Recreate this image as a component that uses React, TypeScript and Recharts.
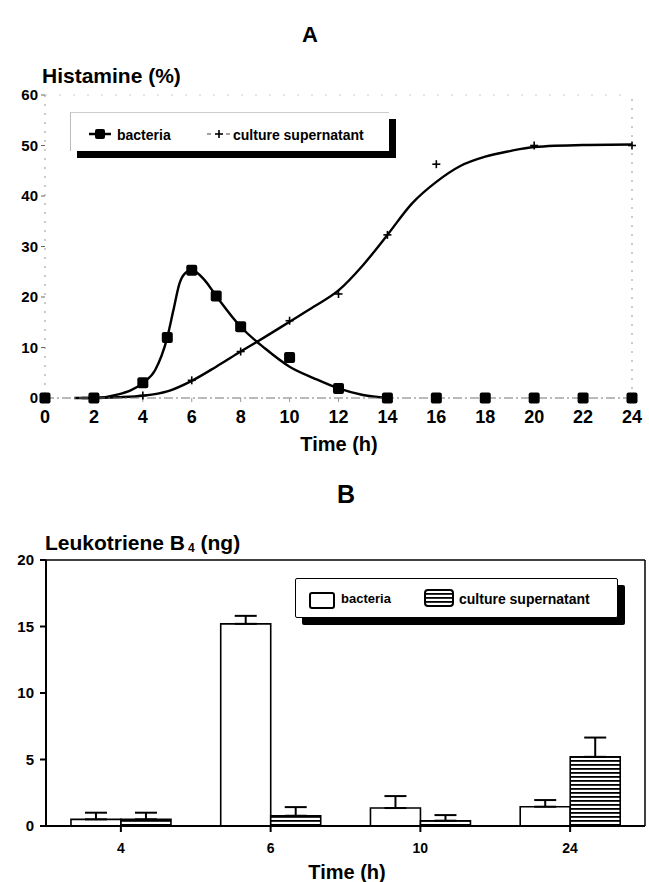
import {
  ComposedChart,
  Line,
  XAxis,
  YAxis,
  ReferenceLine,
  BarChart,
  Bar,
  ErrorBar,
} from 'recharts'

const FONT = '"Liberation Sans", Arial, Helvetica, sans-serif'

// Panel A – histamine release (%)
const HOURS = [0, 2, 4, 5, 6, 7, 8, 10, 12, 14, 16, 18, 20, 22, 24]
const BACTERIA = [0, 0, 3, 12, 25.3, 20.2, 14.1, 8, 1.9, 0, 0, 0, 0, 0, 0]
const SUP_HOURS = [4, 6, 8, 10, 12, 14, 16, 20, 24]
const SUPERNATANT = [0.5, 3.5, 9.2, 15.3, 20.6, 32.3, 46.3, 50, 50]

// fitted curves as drawn in the figure
const BACT_FIT_HOURS = [1.5, 2, 3, 4, 4.5, 5, 5.25, 5.5, 5.75, 6, 6.5, 7, 8, 9, 10, 11, 12, 13, 14]
const BACT_FIT = [0, 0, 0.7, 3, 5.5, 12, 17.4, 22.7, 24.8, 25.3, 23.5, 20.2, 14.1, 9.8, 6.2, 3.9, 1.9, 0.6, 0]
const SUP_FIT_HOURS = [1.2, 2, 3, 4, 5, 6, 7, 8, 9, 10, 11, 12, 13, 14, 15, 16, 17, 18, 19, 20, 22, 24]
const SUP_FIT = [0, 0, 0.15, 0.45, 1.3, 3.4, 6.2, 9.2, 12.1, 15.1, 18.1, 21.3, 26.3, 32.3, 38.5, 42.8, 46, 47.8, 48.9, 49.7, 50.1, 50.2]

const HOUR_TICKS = [0, 2, 4, 6, 8, 10, 12, 14, 16, 18, 20, 22, 24]
const PCT_TICKS = [0, 10, 20, 30, 40, 50, 60]

// Panel B – leukotriene B4 (ng)
const LTB_TIMES = ['4', '6', '10', '24']
const LTB_BACT = [0.5, 15.2, 1.35, 1.45]
const LTB_BACT_SD = [0.5, 0.6, 0.9, 0.5]
const LTB_SUP = [0.5, 0.77, 0.4, 5.2]
const LTB_SUP_SD = [0.5, 0.65, 0.42, 1.45]
const NG_TICKS = [0, 5, 10, 15, 20]

const toPts = (xs: number[], ys: number[]) => xs.map((t, i) => ({ t, v: ys[i] }))

const bactPts = toPts(HOURS, BACTERIA)
const supPts = toPts(SUP_HOURS, SUPERNATANT)
const bactFit = toPts(BACT_FIT_HOURS, BACT_FIT)
const supFit = toPts(SUP_FIT_HOURS, SUP_FIT)

const ltbData = LTB_TIMES.map((time, i) => ({
  time,
  bacteria: LTB_BACT[i],
  bacteriaErr: [0, LTB_BACT_SD[i]],
  supernatant: LTB_SUP[i],
  supernatantErr: [0, LTB_SUP_SD[i]],
}))

function SquareDot(props: any) {
  const { cx, cy, index } = props
  if (cx == null || cy == null) return <g key={index} />
  return <rect key={index} x={cx - 5.5} y={cy - 5.5} width={11} height={11} rx={2} fill="#000" />
}

function PlusDot(props: any) {
  const { cx, cy, index } = props
  if (cx == null || cy == null) return <g key={index} />
  return (
    <g key={index} stroke="#000" strokeWidth={1.6}>
      <line x1={cx - 4} y1={cy} x2={cx + 4} y2={cy} />
      <line x1={cx} y1={cy - 4} x2={cx} y2={cy + 4} />
    </g>
  )
}

const tickA = { fill: '#000', fontSize: 15, fontWeight: 700, fontFamily: FONT }
const tickAx = { fill: '#000', fontSize: 18, fontWeight: 700, fontFamily: FONT }
const tickB = { fill: '#000', fontSize: 15, fontWeight: 900, fontFamily: FONT }

const text = (extra: React.CSSProperties): React.CSSProperties => ({
  position: 'absolute',
  fontFamily: FONT,
  fontWeight: 700,
  lineHeight: 1,
  color: '#000',
  whiteSpace: 'nowrap',
  ...extra,
})

function HistamineChart() {
  return (
    <ComposedChart width={649} height={460} margin={{ top: 95, right: 17, left: 0, bottom: 32 }}>
      <XAxis
        dataKey="t"
        type="number"
        domain={[0, 24]}
        ticks={HOUR_TICKS}
        tick={tickAx}
        tickSize={4}
        tickMargin={8}
        height={30}
        axisLine={{ stroke: '#777', strokeWidth: 1.2, strokeDasharray: '9 3 2 3' }}
        tickLine={{ stroke: '#999' }}
        allowDuplicatedCategory={false}
      />
      <YAxis
        type="number"
        domain={[0, 60]}
        ticks={PCT_TICKS}
        tick={tickA}
        tickSize={4}
        tickMargin={3}
        width={45}
        axisLine={{ stroke: '#999', strokeDasharray: '2 7' }}
        tickLine={{ stroke: '#666' }}
      />
      <ReferenceLine x={24} stroke="#999" strokeDasharray="2 7" />
      <ReferenceLine y={60} stroke="#ccc" strokeDasharray="2 12" />
      <Line data={bactFit} dataKey="v" type="monotone" stroke="#000" strokeWidth={2.4} dot={false} isAnimationActive={false} />
      <Line data={supFit} dataKey="v" type="monotone" stroke="#000" strokeWidth={2.4} dot={false} isAnimationActive={false} />
      <Line data={supPts} dataKey="v" stroke="none" dot={PlusDot} isAnimationActive={false} />
      <Line data={bactPts} dataKey="v" stroke="none" dot={SquareDot} isAnimationActive={false} />
    </ComposedChart>
  )
}

function LeukotrieneChart() {
  return (
    <BarChart
      width={649}
      height={400}
      data={ltbData}
      margin={{ top: 79, right: 3, left: 0, bottom: 24 }}
      barCategoryGap="16.67%"
      barGap={0}
    >
      <defs>
        <pattern id="hstripes" width="4" height="4" patternUnits="userSpaceOnUse">
          <rect width="4" height="4" fill="#fff" />
          <rect width="4" height="1.8" fill="#000" />
        </pattern>
      </defs>
      <XAxis
        dataKey="time"
        tick={{ ...tickB, fontSize: 14 }}
        tickSize={6}
        tickMargin={11}
        height={30}
        axisLine={{ stroke: '#000', strokeWidth: 2 }}
        tickLine={{ stroke: '#000', strokeWidth: 2 }}
      />
      <XAxis xAxisId="top" dataKey="time" orientation="top" height={1} tick={false} tickLine={false} axisLine={{ stroke: '#000', strokeWidth: 1.5 }} />
      <YAxis
        domain={[0, 20]}
        ticks={NG_TICKS}
        tick={tickB}
        tickSize={6}
        tickMargin={6}
        width={46}
        axisLine={{ stroke: '#000', strokeWidth: 2 }}
        tickLine={{ stroke: '#000', strokeWidth: 2 }}
      />
      <YAxis yAxisId="right" orientation="right" domain={[0, 20]} width={1} tick={false} tickLine={false} axisLine={{ stroke: '#000', strokeWidth: 1.5 }} />
      <Bar dataKey="bacteria" fill="#fff" stroke="#000" strokeWidth={1.6} isAnimationActive={false}>
        <ErrorBar dataKey="bacteriaErr" direction="y" width={11} stroke="#000" strokeWidth={2} isAnimationActive={false} />
      </Bar>
      <Bar dataKey="supernatant" fill="url(#hstripes)" stroke="#000" strokeWidth={1.6} isAnimationActive={false}>
        <ErrorBar dataKey="supernatantErr" direction="y" width={11} stroke="#000" strokeWidth={2} isAnimationActive={false} />
      </Bar>
    </BarChart>
  )
}

export default function App() {
  return (
    <div style={{ position: 'absolute', left: 0, top: 0, width: 649, height: 882, background: '#fff', overflow: 'hidden' }}>
      <div style={{ position: 'absolute', left: 0, top: 0 }}>
        <HistamineChart />
      </div>
      <div style={{ position: 'absolute', left: 0, top: 480 }}>
        <LeukotrieneChart />
      </div>

      <div style={text({ left: 290, top: 24, width: 40, textAlign: 'center', fontSize: 22 })}>A</div>
      <div style={text({ left: 42, top: 65, fontSize: 21 })}>Histamine (%)</div>
      <div style={text({ left: 279, top: 434, width: 120, textAlign: 'center', fontSize: 20 })}>Time (h)</div>

      {/* legend A */}
      <div
        style={{
          position: 'absolute',
          left: 70,
          top: 112,
          width: 318,
          height: 38,
          background: '#fff',
          borderTop: '1px solid #ccc',
          borderLeft: '1px solid #bbb',
          boxShadow: '7px 7px 0 #000',
        }}
      >
        <svg width={40} height={20} style={{ position: 'absolute', left: 18, top: 11 }}>
          <line x1={0} y1={10} x2={22} y2={10} stroke="#000" strokeWidth={2.5} />
          <rect x={6} y={5} width={10} height={10} rx={2} fill="#000" />
        </svg>
        <div style={text({ left: 46, top: 15, fontSize: 14 })}>bacteria</div>
        <svg width={30} height={20} style={{ position: 'absolute', left: 134, top: 11 }}>
          <line x1={2} y1={10} x2={6} y2={10} stroke="#666" strokeWidth={1.2} />
          <line x1={10} y1={10} x2={18} y2={10} stroke="#000" strokeWidth={1.6} />
          <line x1={14} y1={6} x2={14} y2={14} stroke="#000" strokeWidth={1.6} />
          <line x1={21} y1={10} x2={25} y2={10} stroke="#666" strokeWidth={1.2} />
        </svg>
        <div style={text({ left: 162, top: 15, fontSize: 14 })}>culture supernatant</div>
      </div>

      <div style={text({ left: 326, top: 482, width: 40, textAlign: 'center', fontSize: 25 })}>B</div>
      <div style={text({ left: 45, top: 532, fontSize: 21, fontWeight: 900 })}>
        Leukotriene B<span style={{ fontSize: 12, verticalAlign: -2, marginLeft: 3 }}>4</span> (ng)
      </div>
      <div style={text({ left: 287, top: 862, width: 120, textAlign: 'center', fontSize: 20, fontWeight: 900 })}>Time (h)</div>

      {/* legend B */}
      <div
        style={{
          position: 'absolute',
          left: 295,
          top: 578,
          width: 321,
          height: 38,
          background: '#fff',
          border: '1.5px solid #000',
          borderRadius: 2,
          boxShadow: '7px 7px 0 #000',
        }}
      >
        <div
          style={{
            position: 'absolute',
            left: 13,
            top: 13,
            width: 22,
            height: 13,
            border: '2px solid #000',
            borderRadius: 3,
            background: '#fff',
          }}
        />
        <div style={text({ left: 45, top: 13, fontSize: 13, fontWeight: 900 })}>bacteria</div>
        <svg width={32} height={19} style={{ position: 'absolute', left: 128, top: 10 }}>
          <defs>
            <pattern id="legstripes" width="4" height="4" patternUnits="userSpaceOnUse">
              <rect width="4" height="4" fill="#fff" />
              <rect width="4" height="1.8" fill="#000" />
            </pattern>
          </defs>
          <rect x={1} y={1} width={28} height={16} rx={3} fill="url(#legstripes)" stroke="#000" strokeWidth={2} />
        </svg>
        <div style={text({ left: 163, top: 13, fontSize: 14, fontWeight: 900 })}>culture supernatant</div>
      </div>
    </div>
  )
}
